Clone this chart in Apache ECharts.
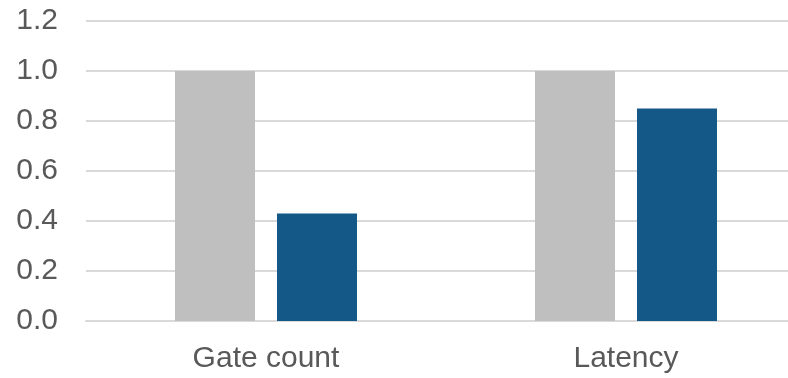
<!DOCTYPE html>
<html>
<head>
<meta charset="utf-8">
<script src="https://cdn.jsdelivr.net/npm/echarts@6/dist/echarts.min.js"></script>
<style>
  html, body { margin: 0; padding: 0; background: #fff; overflow: hidden; }
  #chart { width: 806px; height: 378px; }
</style>
</head>
<body>
<div id="chart"></div>
<script>
// Normalised metrics: baseline vs. optimised design
const categories = ['Gate count', 'Latency'];
const baselineValues = [1.0, 1.0];
const optimisedValues = [0.43, 0.85];
const yTicks = { min: 0, max: 1.2, interval: 0.2 };

const chart = echarts.init(document.getElementById('chart'), null, { renderer: 'canvas' });

const labelFont = {
  fontFamily: 'Liberation Sans, Arial, sans-serif',
  fontSize: 30,
  color: '#595959'
};

chart.setOption({
  animation: false,
  grid: { left: 86, top: 21, right: 0, height: 300, containLabel: false },
  xAxis: {
    type: 'category',
    data: categories,
    axisLine: { show: true, lineStyle: { color: '#D9D9D9', width: 2 } },
    axisTick: { show: false },
    axisLabel: Object.assign({ margin: 23 }, labelFont)
  },
  yAxis: {
    type: 'value',
    min: yTicks.min,
    max: yTicks.max,
    interval: yTicks.interval,
    axisLine: { show: false },
    axisTick: { show: false },
    splitLine: { lineStyle: { color: '#D9D9D9', width: 2 } },
    axisLabel: Object.assign({
      margin: 28,
      formatter: v => v.toFixed(1)
    }, labelFont)
  },
  series: [
    {
      name: 'Baseline',
      type: 'bar',
      data: baselineValues,
      barWidth: 80,
      barGap: '27.5%',
      itemStyle: { color: '#BFBFBF' }
    },
    {
      name: 'Optimised',
      type: 'bar',
      data: optimisedValues,
      barWidth: 80,
      itemStyle: { color: '#135887' }
    }
  ]
});
</script>
</body>
</html>
